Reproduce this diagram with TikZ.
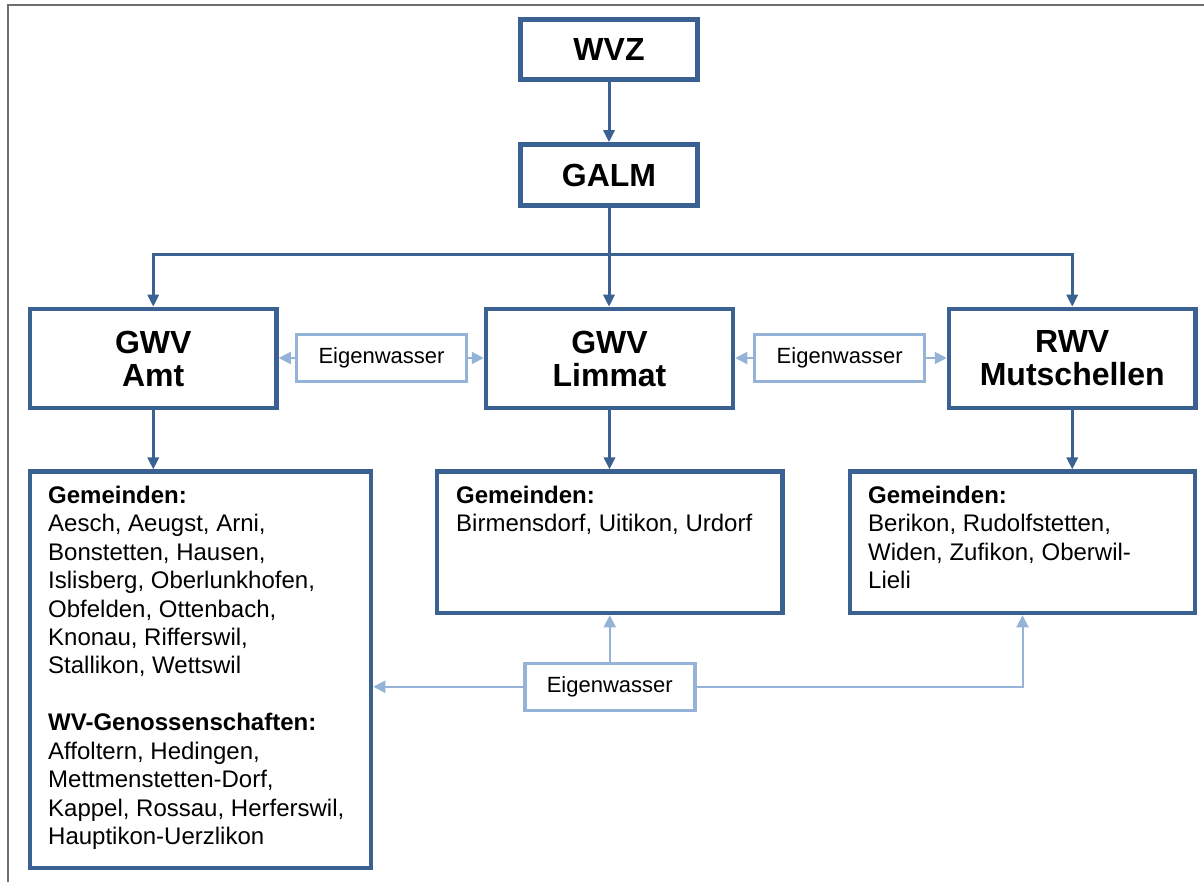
\documentclass[tikz,border=0pt]{standalone}
\usepackage{fontspec}
\setmainfont{Liberation Sans}
\usetikzlibrary{arrows.meta}
\definecolor{dkblue}{HTML}{3B6192}
\definecolor{ltblue}{HTML}{95B3D7}
\definecolor{framegray}{HTML}{6E6E6E}
\tikzset{
  mainbox/.style={draw=dkblue, line width=4.5pt, inner sep=0pt, align=center, text=black,
    font=\fontsize{32}{33}\selectfont\bfseries},
  listbox/.style={draw=dkblue, line width=4.5pt, inner sep=0pt},
  ewbox/.style={draw=ltblue, line width=3.5pt, inner sep=0pt, minimum width=170pt, minimum height=47pt,
    text=black, font=\fontsize{22}{26}\selectfont},
  listtext/.style={anchor=north west, inner sep=0pt, align=left, text=black,
    font=\fontsize{24}{28.45}\selectfont},
  dkline/.style={draw=dkblue, line width=3pt},
  dkarrow/.style={dkline, -{Triangle[length=12pt,width=11pt]}},
  ltline/.style={draw=ltblue, line width=2pt},
  ltarrow/.style={ltline, -{Triangle[length=12pt,width=12pt]}},
}
\begin{document}
\begin{tikzpicture}[x=1pt,y=-1pt]
\useasboundingbox (0,0) rectangle (1204,882);
\draw[framegray, line width=2pt] (8,882) -- (8,5.5) -- (1204,5.5);

% top boxes
\node[mainbox, minimum width=177pt, minimum height=60pt] (wvz) at (609,49.5) {WVZ};
\node[mainbox, minimum width=177pt, minimum height=61pt] (galm) at (609,175) {GALM};

% main boxes
\node[mainbox, minimum width=246.5pt, minimum height=99pt] (amt) at (153.25,358.5) {GWV\\Amt};
\node[mainbox, minimum width=247pt, minimum height=99pt] (limmat) at (609.5,358.5) {GWV\\Limmat};
\node[mainbox, minimum width=246.5pt, minimum height=99pt] (rwv) at (1072.25,358.5) {RWV\\Mutschellen};

% Eigenwasser boxes
\node[ewbox] (ew1) at (381.5,358) {Eigenwasser};
\node[ewbox] (ew2) at (839.7,358) {Eigenwasser};
\node[ewbox] (ew3) at (609.75,686.75) {Eigenwasser};

% list boxes
\node[listbox, minimum width=341pt, minimum height=396.3pt] (amtlist) at (200.5,669.85) {};
\node[listbox, minimum width=345.5pt, minimum height=141.3pt] (limlist) at (609.75,542.35) {};
\node[listbox, minimum width=345pt, minimum height=141.3pt] (mutlist) at (1022.5,542.35) {};

\node[listtext] (amttext) at (48,485) {\rule{0pt}{18pt}\textbf{Gemeinden:}\\
Aesch, Aeugst, Arni,\\
Bonstetten, Hausen,\\
Islisberg, Oberlunkhofen,\\
Obfelden, Ottenbach,\\
Knonau, Rifferswil,\\
Stallikon, Wettswil\\[28.45pt]
\textbf{WV-Genossenschaften:}\\
Affoltern, Hedingen,\\
Mettmenstetten-Dorf,\\
Kappel, Rossau, Herferswil,\\
Hauptikon-Uerzlikon};
\node[listtext] (limtext) at (456,485) {\rule{0pt}{18pt}\textbf{Gemeinden:}\\
Birmensdorf, Uitikon, Urdorf};
\node[listtext] (muttext) at (868,485) {\rule{0pt}{18pt}\textbf{Gemeinden:}\\
Berikon, Rudolfstetten,\\
Widen, Zufikon, Oberwil-\\
Lieli};

% dark connectors
\coordinate (bus) at (609,255);
\draw[dkarrow] (wvz.south) -- (galm.south |- galm.north);
\draw[dkline] (galm.south) -- (bus);
\draw[dkarrow] (bus) -| (amt.north);
\draw[dkarrow] (bus) -- (bus |- limmat.north);
\draw[dkarrow] (bus) -| (rwv.north);
\draw[dkarrow] (amt.south) -- (amt.south |- amtlist.north);
\draw[dkarrow] (limmat.south) -- (limmat.south |- limlist.north);
\draw[dkarrow] (rwv.south) -- (rwv.south |- mutlist.north);

% light connectors
\draw[ltarrow] (ew1.west) -- (ew1.west -| amt.east);
\draw[ltarrow] (ew1.east) -- (ew1.east -| limmat.west);
\draw[ltarrow] (ew2.west) -- (ew2.west -| limmat.east);
\draw[ltarrow] (ew2.east) -- (ew2.east -| rwv.west);
\draw[ltarrow] (ew3.north) -- (ew3.north |- limlist.south);
\draw[ltarrow] (ew3.west) -- (ew3.west -| amtlist.east);
\draw[ltarrow] (ew3.east) -| (mutlist.south);
\end{tikzpicture}
\end{document}
